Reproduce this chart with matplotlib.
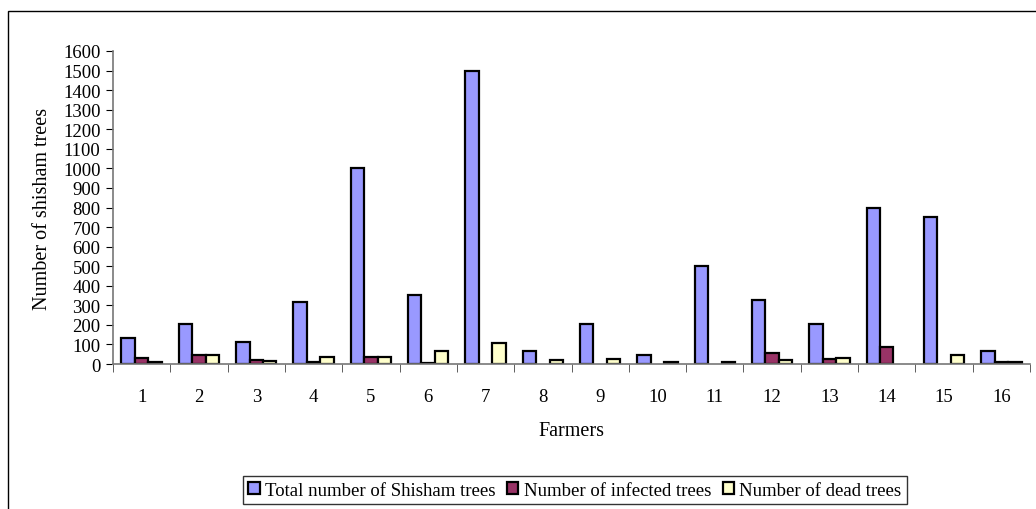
import numpy as np
import matplotlib.pyplot as plt
from matplotlib.patches import Rectangle

farmers = [str(i) for i in range(1, 17)]
total_trees = [135, 205, 110, 315, 1000, 355, 1500, 65, 205, 45, 500, 325, 205, 800, 750, 65]
infected_trees = [30, 45, 20, 10, 35, 6, 0, 0, 0, 0, 0, 55, 28, 85, 0, 10]
dead_trees = [12, 45, 15, 38, 35, 68, 105, 20, 25, 10, 8, 18, 30, 0, 45, 8]

plt.rcParams['font.family'] = ['Liberation Serif', 'DejaVu Serif']

fig = plt.figure(figsize=(10.36, 5.10), dpi=100)
ax = fig.add_axes([113 / 1036, 1 - 365 / 510, 917 / 1036, 313 / 510])

x = np.arange(len(farmers))
w = 0.235
colors = ['#9999ff', '#993366', '#ffffcc']
names = ['Total number of Shisham trees', 'Number of infected trees', 'Number of dead trees']
for i, (vals, c, n) in enumerate(zip([total_trees, infected_trees, dead_trees], colors, names)):
    bars = ax.bar(x + (i - 1) * w, vals, w, color=c, edgecolor='black', linewidth=1.6, label=n)
    for b, v in zip(bars, vals):
        if v == 0:
            b.set_visible(False)

ax.set_xlim(-0.5, len(farmers) - 0.5)
ax.set_ylim(0, 1600)
ax.set_yticks(range(0, 1601, 100))
ax.set_xticks(x)
ax.set_xticklabels(farmers)
ax.set_xticks(np.arange(-0.5, len(farmers), 1), minor=True)
ax.tick_params(axis='x', which='major', length=0, pad=17, labelsize=13.5)
ax.tick_params(axis='x', which='minor', length=6, color='#444444')
ax.tick_params(axis='y', length=5, labelsize=13.5, pad=4)
for s in ['top', 'right']:
    ax.spines[s].set_visible(False)
for s in ['left', 'bottom']:
    ax.spines[s].set_color('#777777')
    ax.spines[s].set_linewidth(1.2)

ax.set_ylabel('Number of shisham trees', fontsize=14.5, labelpad=8)
ax.set_xlabel('Farmers', fontsize=14.5, labelpad=12)

leg = ax.legend(loc='upper center', bbox_to_anchor=(575 / 1036, 1 - 477 / 510),
                bbox_transform=fig.transFigure, ncol=3, frameon=True, fancybox=False,
                fontsize=13.5, handlelength=0.6, handleheight=0.6, handletextpad=0.3,
                columnspacing=0.6, borderpad=0.3, borderaxespad=0)
leg.get_frame().set_edgecolor('black')
leg.get_frame().set_linewidth(1.0)

fig.patches.append(Rectangle((8 / 1036, -0.01), 1.1, 1 - 12 / 510 + 0.01,
                             transform=fig.transFigure, fill=False,
                             edgecolor='black', linewidth=1.0))

fig.savefig('out.png', dpi=100)
